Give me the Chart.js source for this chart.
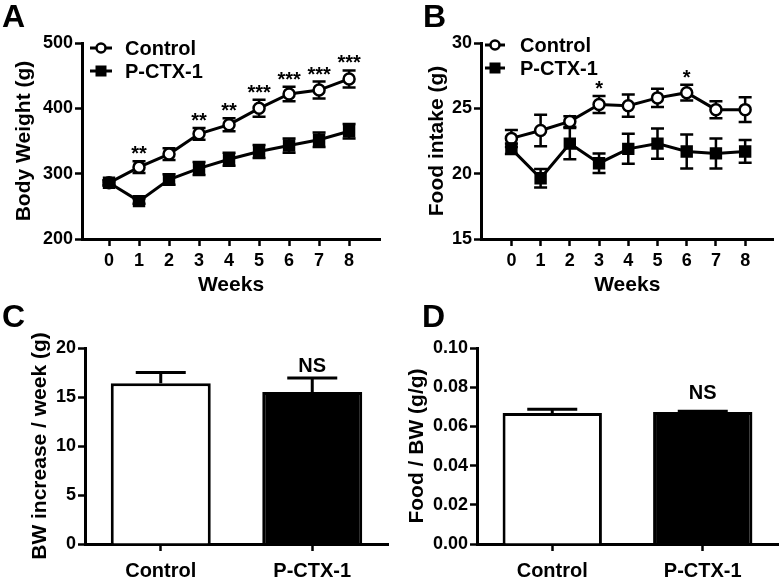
<!DOCTYPE html>
<html>
<head>
<meta charset="utf-8">
<script src="https://cdn.jsdelivr.net/npm/chart.js@4.4.1/dist/chart.umd.min.js"></script>
<style>
  html, body { margin: 0; padding: 0; background: #fff; }
  #wrap { position: relative; width: 783px; height: 585px; overflow: hidden; }
  .panel { position: absolute; }
</style>
</head>
<body>
<div id="wrap">
  <div class="panel" style="left:0;top:0;width:391px;height:300px"><canvas id="chartA"></canvas></div>
  <div class="panel" style="left:391px;top:0;width:392px;height:300px"><canvas id="chartB"></canvas></div>
  <div class="panel" style="left:0;top:300px;width:391px;height:285px"><canvas id="chartC"></canvas></div>
  <div class="panel" style="left:391px;top:300px;width:392px;height:285px"><canvas id="chartD"></canvas></div>
</div>
<script>
// ---------- data ----------
const weeks = [0, 1, 2, 3, 4, 5, 6, 7, 8];

// A: body weight (g), mean +/- SEM
const bwControl    = [286, 310, 330, 361, 375, 400, 422, 428, 445];
const bwControlErr = [4, 9, 9, 9, 10, 13, 11, 13, 13];
const bwPctx       = [286, 258, 291, 308, 322, 334, 343, 352, 365];
const bwPctxErr    = [4, 4, 8, 10, 10, 10, 11, 11, 11];
const bwStars      = ['', '**', '', '**', '**', '***', '***', '***', '***'];

// B: food intake (g)
const fiControl    = [22.7, 23.3, 24.0, 25.3, 25.2, 25.8, 26.2, 24.9, 24.9];
const fiControlErr = [0.65, 1.2, 0.4, 0.65, 0.85, 0.7, 0.6, 0.65, 0.95];
const fiPctx       = [21.9, 19.65, 22.3, 20.8, 21.9, 22.3, 21.7, 21.55, 21.7];
const fiPctxErr    = [0.4, 0.7, 1.2, 0.75, 1.15, 1.15, 1.3, 1.15, 0.87];
const fiStars      = ['', '', '', '*', '', '', '*', '', ''];

// C / D: group means
const groups         = ['Control', 'P-CTX-1'];
const bwGain         = [16.4, 15.5];
const bwGainErr      = [1.1, 1.45];
const foodPerBw      = [0.0668, 0.0674];
const foodPerBwErr   = [0.002, 0.0003];
const nsMarks        = ['', 'NS'];

// ---------- styling ----------
const FONT = "'Liberation Sans', Arial, Helvetica, sans-serif";
Chart.defaults.font.family = FONT;
Chart.defaults.font.weight = 'bold';
Chart.defaults.color = '#000';

// error bars: drawn just before each line dataset, after all bars
function drawErrors(chart, i, o) {
  const ds = chart.data.datasets[i];
  if (!ds.errors) return;
  const meta = chart.getDatasetMeta(i);
  const y = chart.scales.y;
  const ctx = chart.ctx;
  ctx.save();
  ctx.strokeStyle = '#000';
  ctx.lineWidth = o.width;
  meta.data.forEach((el, j) => {
    const v = ds.data[j];
    const e = ds.errors[j];
    const top = y.getPixelForValue(v + e);
    const bot = o.upOnly ? el.y : y.getPixelForValue(v - e);
    ctx.beginPath();
    ctx.moveTo(el.x, top); ctx.lineTo(el.x, bot);
    ctx.moveTo(el.x - o.cap, top); ctx.lineTo(el.x + o.cap, top);
    if (!o.upOnly) { ctx.moveTo(el.x - o.cap, bot); ctx.lineTo(el.x + o.cap, bot); }
    ctx.stroke();
  });
  ctx.restore();
}

const errorBars = {
  id: 'errorBars',
  beforeDatasetDraw(chart, args, o) {
    if (!o.upOnly) drawErrors(chart, args.index, o);
  },
  afterDatasetsDraw(chart, args, o) {
    if (o.upOnly) chart.data.datasets.forEach((ds, i) => drawErrors(chart, i, o));
  }
};

// significance marks above the error bars
const sigMarks = {
  id: 'sigMarks',
  afterDatasetsDraw(chart, args, o) {
    const ctx = chart.ctx;
    const y = chart.scales.y;
    ctx.save();
    ctx.fillStyle = '#000';
    ctx.font = `bold ${o.size}px ${FONT}`;
    ctx.textAlign = 'center';
    ctx.textBaseline = 'alphabetic';
    chart.data.datasets.forEach((ds, i) => {
      if (!ds.marks) return;
      const meta = chart.getDatasetMeta(i);
      meta.data.forEach((el, j) => {
        if (!ds.marks[j]) return;
        const top = y.getPixelForValue(ds.data[j] + ds.errors[j]);
        ctx.fillText(ds.marks[j], el.x, top - o.gap);
      });
    });
    ctx.restore();
  }
};

// panel letter + in-plot legend
const decor = {
  id: 'decor',
  afterDraw(chart, args, o) {
    const ctx = chart.ctx;
    ctx.save();
    ctx.fillStyle = '#000';
    ctx.font = `bold ${o.letterSize}px ${FONT}`;
    ctx.textAlign = 'left';
    ctx.textBaseline = 'alphabetic';
    ctx.fillText(o.letter, o.letterX, o.letterY);
    if (o.legend) {
      const L = o.legend;
      chart.data.datasets.forEach((ds, i) => {
        const yy = L.y + i * L.rowGap;
        ctx.strokeStyle = '#000';
        ctx.lineWidth = ds.borderWidth;
        ctx.beginPath(); ctx.moveTo(L.x, yy); ctx.lineTo(L.x + L.len, yy); ctx.stroke();
        ctx.fillStyle = ds.pointBackgroundColor;
        ctx.strokeStyle = ds.pointBorderColor;
        ctx.lineWidth = ds.pointBorderWidth;
        Chart.helpers.drawPoint(ctx, { pointStyle: ds.pointStyle, radius: ds.pointRadius - 1, borderWidth: ds.pointBorderWidth, rotation: 0 }, L.x + L.len / 2, yy);
        ctx.fillStyle = '#000';
        ctx.font = `bold ${L.size}px ${FONT}`;
        ctx.textBaseline = 'middle';
        ctx.fillText(ds.label, L.textX, yy + 1);
      });
    }
    ctx.restore();
  }
};

Chart.register(errorBars, sigMarks, decor);

function lineSet(label, data, errors, style, marks, order) {
  return {
    label, data, errors, marks, order,
    borderColor: '#000', borderWidth: 3,
    pointStyle: style,
    pointRadius: style === 'circle' ? 5.5 : 7,
    pointBorderWidth: 2.5,
    pointBorderColor: '#000',
    pointBackgroundColor: style === 'circle' ? '#fff' : '#000',
    tension: 0
  };
}

function axisGrid() {
  return { drawOnChartArea: false, tickLength: 7, tickWidth: 2.5, tickColor: '#000', color: '#000' };
}

function lineOptions(c) {
  return {
    responsive: true, maintainAspectRatio: false, animation: false,
    layout: { padding: { left: 0, top: c.padTop, right: c.padRight, bottom: 0 } },
    plugins: {
      legend: { display: false }, tooltip: { enabled: false },
      errorBars: { cap: 6.5, width: 2.5, upOnly: false },
      sigMarks: { size: 20, gap: 1 },
      decor: { letter: c.letter, letterX: c.letterX, letterY: 27, letterSize: 32, legend: c.legend }
    },
    scales: {
      x: {
        type: 'linear', min: c.xMin, max: c.xMax,
        grid: axisGrid(), border: { color: '#000', width: 3 },
        ticks: { font: { size: 18 }, padding: 4 },
        afterBuildTicks: s => { s.ticks = weeks.map(v => ({ value: v })); },
        title: { display: true, text: 'Weeks', font: { size: 21 }, padding: { top: 0, bottom: 2 } },
        afterFit: s => { s.height = c.xHeight; }
      },
      y: {
        min: c.yMin, max: c.yMax,
        grid: axisGrid(), border: { color: '#000', width: 3 },
        ticks: { stepSize: c.yStep, font: { size: 18 }, padding: 2 },
        title: { display: true, text: c.yTitle, font: { size: 21 }, padding: c.titlePad },
        afterFit: s => { s.width = c.yWidth; }
      }
    }
  };
}

function barOptions(c) {
  return {
    responsive: true, maintainAspectRatio: false, animation: false,
    layout: { padding: { left: 0, top: c.padTop, right: c.padRight, bottom: 0 } },
    plugins: {
      legend: { display: false }, tooltip: { enabled: false },
      errorBars: { cap: 25, width: 3, upOnly: true },
      sigMarks: { size: 20, gap: c.markGap },
      decor: { letter: c.letter, letterX: c.letterX, letterY: 27, letterSize: 32 }
    },
    scales: {
      x: {
        grid: Object.assign(axisGrid(), { offset: false }), border: { color: '#000', width: 3 },
        ticks: { font: { size: 20 }, padding: 8 },
        afterFit: s => { s.height = c.xHeight; }
      },
      y: {
        min: c.yMin, max: c.yMax,
        grid: axisGrid(), border: { color: '#000', width: 3 },
        ticks: { stepSize: c.yStep, font: { size: 18 }, padding: 2, callback: c.fmt },
        title: { display: true, text: c.yTitle, font: { size: 21 }, padding: c.titlePad },
        afterFit: s => { s.width = c.yWidth; }
      }
    }
  };
}

// ---------- A ----------
new Chart(document.getElementById('chartA'), {
  type: 'line',
  data: {
    labels: weeks,
    datasets: [
      lineSet('Control', bwControl, bwControlErr, 'circle', bwStars, 2),
      lineSet('P-CTX-1', bwPctx, bwPctxErr, 'rect', null, 1)
    ]
  },
  options: lineOptions({
    yMin: 200, yMax: 500, yStep: 100, yTitle: 'Body Weight (g)', yWidth: 82, titlePad: 12,
    padTop: 43, padRight: 11, xHeight: 61, xMin: -0.9, xMax: 9.03,
    letter: 'A', letterX: 2,
    legend: { x: 90, len: 22, y: 48, rowGap: 23, textX: 125, size: 20 }
  })
});

// ---------- B ----------
new Chart(document.getElementById('chartB'), {
  type: 'line',
  data: {
    labels: weeks,
    datasets: [
      lineSet('Control', fiControl, fiControlErr, 'circle', fiStars, 2),
      lineSet('P-CTX-1', fiPctx, fiPctxErr, 'rect', null, 1)
    ]
  },
  options: lineOptions({
    yMin: 15, yMax: 30, yStep: 5, yTitle: 'Food intake (g)', yWidth: 90, titlePad: 34,
    padTop: 43, padRight: 3, xHeight: 61, xMin: -1.04, xMax: 8.97,
    letter: 'B', letterX: 32,
    legend: { x: 94, len: 20, y: 45, rowGap: 23, textX: 129, size: 20 }
  })
});

// ---------- C ----------
new Chart(document.getElementById('chartC'), {
  type: 'bar',
  data: {
    labels: groups,
    datasets: [{
      label: 'BW increase / week', data: bwGain, errors: bwGainErr, marks: nsMarks,
      backgroundColor: ['#fff', '#000'], borderColor: '#000', borderWidth: 3,
      barPercentage: 0.66, categoryPercentage: 1
    }]
  },
  options: barOptions({
    yMin: 0, yMax: 20, yStep: 5, yTitle: 'BW increase / week (g)', yWidth: 85, titlePad: 28,
    padTop: 48, padRight: 3, xHeight: 41, markGap: 6,
    letter: 'C', letterX: 2, fmt: v => v
  })
});

// ---------- D ----------
new Chart(document.getElementById('chartD'), {
  type: 'bar',
  data: {
    labels: groups,
    datasets: [{
      label: 'Food / BW', data: foodPerBw, errors: foodPerBwErr, marks: nsMarks,
      backgroundColor: ['#fff', '#000'], borderColor: '#000', borderWidth: 3,
      barPercentage: 0.66, categoryPercentage: 1
    }]
  },
  options: barOptions({
    yMin: 0, yMax: 0.1, yStep: 0.02, yTitle: 'Food / BW (g/g)', yWidth: 86, titlePad: 14,
    padTop: 48, padRight: 5, xHeight: 41, markGap: 12,
    letter: 'D', letterX: 31, fmt: v => v.toFixed(2)
  })
});
</script>
</body>
</html>
